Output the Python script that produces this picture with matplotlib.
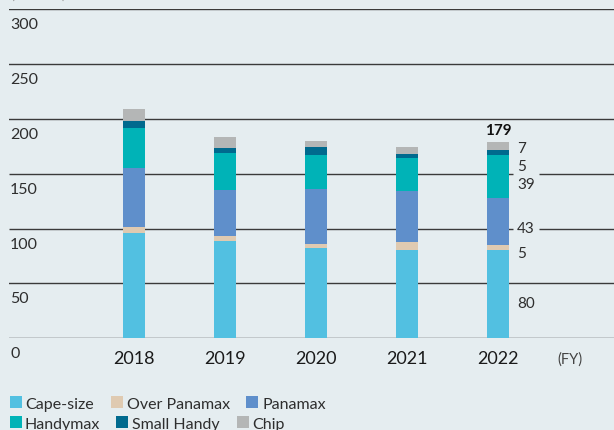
import numpy as np
import matplotlib
matplotlib.use("Agg")
import matplotlib.pyplot as plt
from matplotlib.patches import Rectangle

plt.rcParams['font.family'] = ['Lato', 'DejaVu Sans']

# ---- data -------------------------------------------------------------
years = ['2018', '2019', '2020', '2021', '2022']
cape_size = [96, 89, 82, 80, 80]
over_panamax = [5, 4, 4, 8, 5]
panamax = [54, 42, 50, 46, 43]
handymax = [37, 34, 31, 30, 39]
small_handy = [6, 4, 7, 4, 5]
chip = [11, 10, 6, 6, 7]
y_ticks = [0, 50, 100, 150, 200, 250, 300]

series_names = ['Cape-size', 'Over Panamax', 'Panamax', 'Handymax', 'Small Handy', 'Chip']
series_values = [cape_size, over_panamax, panamax, handymax, small_handy, chip]
series_colors = ['#52c0e1', '#dfcab1', '#5f8fcb', '#00b3b7', '#006a8e', '#b4b6b6']

# ---- layout -------------------------------------------------------------
W, H = 614, 430
BG = '#e5edf0'
TXT = '#2e2e2e'

fig = plt.figure(figsize=(W / 100, H / 100), dpi=100, facecolor=BG)
y0_px, y300_px = 338.3, 9.0
ax = fig.add_axes([9 / W, (H - y0_px) / H, (W - 9) / W, (y0_px - y300_px) / H])
ax.set_facecolor(BG)
px_per_unit_x = 91.0
x_lo, x_hi = -125 / px_per_unit_x, 480 / px_per_unit_x
ax.set_xlim(x_lo, x_hi)
ax.set_ylim(0, 300)
for s in ax.spines.values():
    s.set_visible(False)
ax.set_xticks([])
ax.set_yticks([])

last = len(years) - 1
label_baselines = [28.0, 73.0, 95.9, 135.7, 152.1, 168.5]
# column kept clear for the breakdown labels of the latest year
gap_lo, gap_hi = last + 15 / px_per_unit_x, last + 41 / px_per_unit_x
band_lo, band_hi = label_baselines[2] - 3, label_baselines[4] + 12

# horizontal grid lines with their values written just below each line
for t in y_ticks:
    if band_lo <= t <= band_hi:
        ax.hlines([t, t], [x_lo, gap_hi], [gap_lo, x_hi], color='#3a3a3a', lw=1.0, zorder=1)
    else:
        ax.axhline(t, color='#3a3a3a', lw=1.0, zorder=1)
    ax.annotate(str(t), xy=(0, t), xycoords=('axes fraction', 'data'),
                xytext=(0.8, -14.4), textcoords='offset points',
                ha='left', va='baseline', fontsize=11.5, color=TXT)

# stacked bars
x = np.arange(len(years))
bar_w = 22 / px_per_unit_x
bottom = np.zeros(len(years))
for vals, col in zip(series_values, series_colors):
    ax.bar(x, vals, width=bar_w, bottom=bottom, color=col, zorder=2, linewidth=0)
    bottom += np.array(vals)

# year labels under the axis
for xi, yr in zip(x, years):
    ax.annotate(yr, xy=(xi, 0), xycoords='data', xytext=(0, -18.7),
                textcoords='offset points', ha='center', va='baseline',
                fontsize=13, color='#1a1a1a')
ax.annotate('(FY)', xy=(570, H - 364), xycoords='figure pixels',
            ha='center', va='baseline', fontsize=10.5, color='#444444')

# breakdown of the latest year
for vals, yb in zip(series_values, label_baselines):
    ax.annotate(str(vals[last]), xy=(last, yb), xycoords='data',
                xytext=(13.7, 0), textcoords='offset points',
                ha='left', va='baseline', fontsize=11, color=TXT, zorder=4)
ax.annotate(str(int(bottom[last])), xy=(last, bottom[last]), xycoords='data',
            xytext=(0, 5.2), textcoords='offset points',
            ha='center', va='baseline', fontsize=11, fontweight='bold',
            color='#111111')

# partially visible unit caption at the very top
fig.text(10 / W, (H + 1.5) / H, '(Vessels)', ha='left', va='baseline',
         fontsize=10.5, color='#999999')

# legend drawn as a flowing two-row list
legend_items = [
    (0, 10, 396, 25, 409),
    (1, 111, 396, 127, 409),
    (2, 246, 396, 262, 409),
    (3, 10, 416, 25, 429),
    (4, 116, 416, 132, 429),
    (5, 237, 416, 252, 429),
]
for idx, sx, sy, tx, ty in legend_items:
    fig.patches.append(Rectangle((sx / W, (H - sy - 12) / H), 12 / W, 12 / H,
                                 transform=fig.transFigure, facecolor=series_colors[idx],
                                 edgecolor='none'))
    fig.text(tx / W, (H - ty) / H, series_names[idx], ha='left', va='baseline',
             fontsize=11.5, color=TXT)

fig.savefig('out.png', dpi=100, facecolor=BG)
